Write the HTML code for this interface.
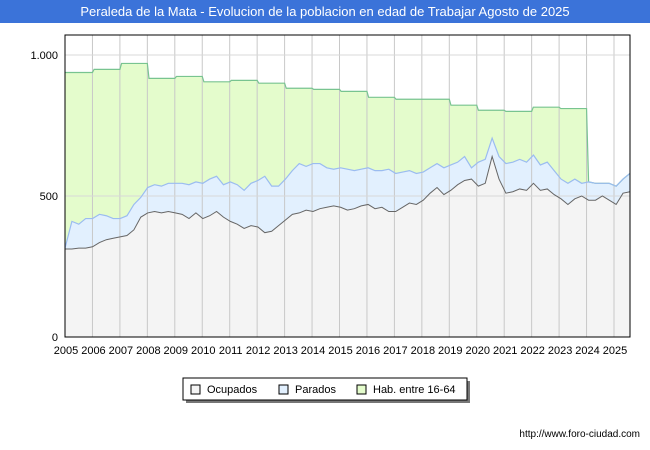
<!DOCTYPE html>
<html><head><meta charset="utf-8"><style>
body{margin:0;width:650px;height:450px;background:#fff;font-family:"Liberation Sans",sans-serif;overflow:hidden}
#title{position:absolute;left:0;top:0;width:650px;height:23px;background:#3b73d9;color:#fff;font-size:13px;line-height:23px;text-align:center}
svg{position:absolute;left:0;top:0}
</style></head><body>
<div id="title">Peraleda de la Mata - Evolucion de la poblacion en edad de Trabajar Agosto de 2025</div>
<svg id="c" width="650" height="450"></svg>
<script>
const years=[2005,2006,2007,2008,2009,2010,2011,2012,2013,2014,2015,2016,2017,2018,2019,2020,2021,2022,2023,2024,2025];
const hab=[938,949,970,917,924,905,910,900,882,878,871,850,843,843,822,804,800,815,810];
const ocupados=[312,312,315,315,320,335,345,350,355,360,380,425,440,445,440,445,440,435,420,440,420,430,445,425,410,400,385,395,390,370,375,395,415,435,440,450,445,455,460,465,460,450,455,465,470,455,460,445,445,460,475,470,485,510,530,505,520,540,555,560,535,545,640,560,510,515,525,520,545,520,525,505,490,470,490,500,485,485,500,485,470,510,515];
const parados=[3,98,85,105,100,100,85,70,65,70,90,70,90,95,95,100,105,110,120,110,125,130,125,115,140,140,135,150,165,200,160,140,145,155,175,155,170,160,140,130,140,145,135,130,130,135,130,150,135,125,115,110,100,90,85,95,90,80,85,40,85,85,65,80,105,105,105,100,100,90,95,85,70,75,70,45,65,60,45,60,65,50,65];
const yTicks=[0,500,1000];const yTickLabels=["0","500","1.000"];
const NS="http://www.w3.org/2000/svg",svg=document.getElementById('c');
const L=65,R=630,T=35,B=337;
const X=yr=>Math.min(R,L+(yr-2005)*27.45);
const Y=v=>B-v*0.282;
const qYear=i=>2005+i*(20.58/(ocupados.length-1));
function mk(t,a,p){const e=document.createElementNS(NS,t);for(const k in a)e.setAttribute(k,a[k]);(p||svg).appendChild(e);return e;}
const hp=[];hab.forEach((v,i)=>{hp.push([X(years[i]+(i?0.06:0)),Y(v)]);hp.push([X(years[i]+1),Y(v)]);});
const totalAt=i=>ocupados[i]+parados[i];
let firstAfter=ocupados.findIndex((_,i)=>qYear(i)>=2024);
for(let i=firstAfter;i<ocupados.length;i++)hp.push([X(qYear(i)),Y(totalAt(i))]);
const habPath=hp.map((p,i)=>(i?'L':'M')+p[0]+','+p[1]).join('');
const tp=ocupados.map((o,i)=>[X(qYear(i)),Y(o+parados[i])]);
const tPath=tp.map((p,i)=>(i?'L':'M')+p[0]+','+p[1]).join('');
const op=ocupados.map((o,i)=>[X(qYear(i)),Y(o)]);
const oPath=op.map((p,i)=>(i?'L':'M')+p[0]+','+p[1]).join('');
let g=mk('path',{d:habPath+`L${R},${B}L${L},${B}Z`,fill:'#e4fccc'});


g=mk('path',{d:tPath+`L${R},${B}L${L},${B}Z`,fill:'#e2f0fe'});


g=mk('path',{d:oPath+`L${R},${B}L${L},${B}Z`,fill:'#f4f4f4'});


// grid on top of fills
years.forEach((y,i)=>{if(i>0){const gl=mk('line',{x1:X(y),x2:X(y),y1:T,y2:B,stroke:'#c8c8c8'});

}});
yTicks.forEach((v,i)=>{const gl=mk('line',{x1:L,x2:R,y1:Y(v),y2:Y(v),stroke:'#d8d8d8'});


const t=mk('text',{x:58,y:Y(v)+4,'text-anchor':'end','font-size':11,fill:'#000'});t.textContent=yTickLabels[i];

});
years.forEach(y=>{const t=mk('text',{x:X(y)+1,y:354,'text-anchor':'middle','font-size':11,fill:'#000'});t.textContent=y;

});
g=mk('path',{d:habPath,fill:'none',stroke:'#78c490','stroke-width':1.2});


g=mk('path',{d:tPath,fill:'none',stroke:'#9bbcf0','stroke-width':1.2});


g=mk('path',{d:oPath,fill:'none',stroke:'#666','stroke-width':1});


g=mk('rect',{x:L,y:T,width:R-L,height:B-T,fill:'none',stroke:'#000'});


</script>
<svg width="650" height="450" style="pointer-events:none">
<g>
<rect x="186" y="381" width="284" height="22" fill="#777"/>
<rect x="183" y="378" width="284" height="22" fill="#fff" stroke="#000"/>
<g><rect x="191" y="385" width="9" height="9" fill="#f4f4f4" stroke="#000"/><text x="207" y="393" font-size="11">Ocupados</text></g>
<g><rect x="279" y="385" width="9" height="9" fill="#e2f0fe" stroke="#000"/><text x="295" y="393" font-size="11">Parados</text></g>
<g><rect x="357" y="385" width="9" height="9" fill="#e4fccc" stroke="#000"/><text x="373" y="393" font-size="11">Hab. entre 16-64</text></g>
</g>
<text x="640" y="437" font-size="10" text-anchor="end">http://www.foro-ciudad.com</text>
</svg>
</body></html>
